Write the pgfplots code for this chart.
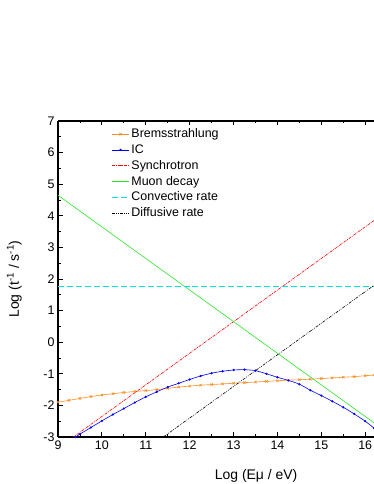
\documentclass[border=0pt]{standalone}
\usepackage{fontspec}
\setmainfont{Liberation Sans}
\usepackage{pgfplots}
\pgfplotsset{compat=1.18}

\definecolor{bremcol}{RGB}{255,140,30}
\definecolor{muoncol}{RGB}{40,230,40}
\definecolor{convcol}{RGB}{0,225,225}

\begin{document}
\begin{tikzpicture}
\useasboundingbox (0,0) rectangle (374bp,484bp);
\begin{axis}[
    at={(58bp,47bp)}, anchor=south west,
    scale only axis,
    width=316bp, height=316bp,
    xmin=9, xmax=16.2,
    ymin=-3, ymax=7,
    axis x line*=box,
    axis y line*=left,
    xtick={9,...,16},
    ytick={-3,...,7},
    minor x tick num=1,
    minor y tick num=1,
    tick align=inside,
    major tick length=4.5bp,
    minor tick length=2.5bp,
    tick style={black, line width=0.8pt},
    axis line style={line width=1.1pt},
    /pgf/number format/assume math mode=true,
    tick label style={font=\fontsize{12.5}{14}\selectfont},
    xlabel={Log (Eμ / eV)},
    ylabel={Log (t\textsuperscript{-1} / s\textsuperscript{-1})},
    label style={font=\fontsize{14}{16}\selectfont},
    xlabel style={at={(axis description cs:0.627,-0.133)}, anchor=base},
    ylabel style={at={(axis description cs:-0.138,0.5)}, anchor=center},
    legend style={
        at={(0.166,0.985)}, anchor=north west,
        draw=none, fill=none,
        font=\fontsize{12.5}{13.5}\selectfont,
        row sep=1.3bp,
        inner sep=1pt,
    },
    legend cell align=left,
    every axis plot/.append style={line width=0.6pt},
    clip=true,
]

% Bremsstrahlung
\addplot[color=bremcol, mark=x, mark size=1.6pt, mark options={solid}]
coordinates {
(9,-1.90) (9.25,-1.84) (9.5,-1.78) (9.75,-1.72) (10,-1.67) (10.25,-1.63)
(10.5,-1.59) (10.75,-1.56) (11,-1.53) (11.25,-1.50) (11.5,-1.46) (11.75,-1.42)
(12,-1.39) (12.25,-1.36) (12.5,-1.34) (12.75,-1.32) (13,-1.30) (13.25,-1.28)
(13.5,-1.26) (13.75,-1.24) (14,-1.22) (14.25,-1.20) (14.5,-1.19) (14.75,-1.17)
(15,-1.15) (15.25,-1.13) (15.5,-1.11) (15.75,-1.09) (16,-1.06) (16.2,-1.04)
};
\addlegendentry{Bremsstrahlung}

% IC
\addplot[color=blue, smooth, mark=*, mark size=0.8pt]
coordinates {
(9.4,-3.0) (9.5,-2.91) (9.75,-2.70) (10,-2.49) (10.25,-2.29) (10.5,-2.10)
(10.75,-1.91) (11,-1.73) (11.25,-1.57) (11.5,-1.42) (11.75,-1.30) (12,-1.18)
(12.25,-1.07) (12.5,-0.98) (12.75,-0.92) (13,-0.88) (13.25,-0.87) (13.5,-0.90)
(13.75,-1.00) (14,-1.11) (14.25,-1.21) (14.5,-1.33) (14.75,-1.52) (15,-1.69)
(15.25,-1.87) (15.5,-2.06) (15.75,-2.27) (16,-2.50) (16.2,-2.72)
};
\addlegendentry{IC}

% Synchrotron
\addplot[color=red, dash pattern=on 3pt off 1pt on 0.8pt off 1pt]
coordinates {(9,-3.35) (16.2,3.85)};
\addlegendentry{Synchrotron}

% Muon decay
\addplot[color=muoncol]
coordinates {(9,4.65) (16.2,-2.55)};
\addlegendentry{Muon decay}

% Convective rate
\addplot[color=convcol, line width=0.8pt, dash pattern=on 6pt off 3pt]
coordinates {(9,1.75) (16.2,1.75)};
\addlegendentry{Convective rate}

% Diffusive rate
\addplot[color=black, dash pattern=on 3pt off 1.2pt on 0.8pt off 1.2pt on 0.8pt off 1.2pt]
coordinates {(11.4,-3.0) (16.2,1.8)};
\addlegendentry{Diffusive rate}

\end{axis}
\end{tikzpicture}
\end{document}
